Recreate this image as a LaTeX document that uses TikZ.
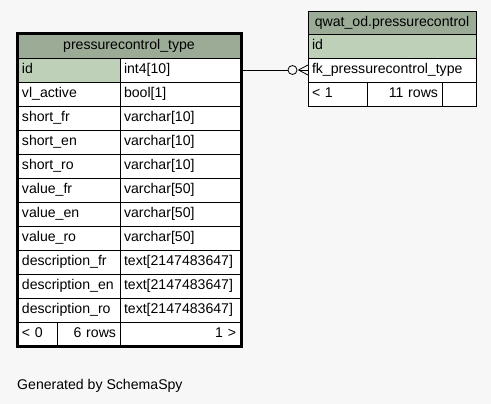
\documentclass[tikz,border=0pt]{standalone}
\usepackage{fontspec}
\setmainfont{Liberation Sans}
\usetikzlibrary{calc}
\definecolor{bgc}{HTML}{F7F7F7}
\definecolor{hdr}{HTML}{9BAB96}
\definecolor{pkc}{HTML}{BED1B8}
\begin{document}
\begin{tikzpicture}[x=1pt,y=-1pt,
  font=\fontsize{14.1}{16}\selectfont,
  cellbox/.style={draw=black, line width=0.8pt, fill=white, rectangle, inner xsep=4pt, inner ysep=0pt,
    outer sep=0pt, anchor=north west, text height=10.5pt, text depth=3pt},
  lcell/.style={cellbox, align=left, text width=#1},
  rcell/.style={cellbox, align=right, text width=#1},
  ccell/.style={cellbox, align=center, text width=#1},
]
\useasboundingbox (0,0) rectangle (491,404);
\fill[bgc] (0,0) rectangle (491,404);

% ---------- left table ----------
\node[ccell=214pt, fill=hdr, minimum height=24pt] (lt) at (18,34) {pressurecontrol\_type};
\node[lcell=94pt, fill=pkc, minimum height=24pt] (lid) at (18,58) {id};
\node[lcell=112pt, minimum height=24pt] (lidt) at (120,58) {int4[10]};
\foreach \n/\t [count=\i] in {vl\_active/bool[1], short\_fr/varchar[10], short\_en/varchar[10], short\_ro/varchar[10],
  value\_fr/varchar[50], value\_en/varchar[50], value\_ro/varchar[50],
  description\_fr/text[2147483647], description\_en/text[2147483647], description\_ro/text[2147483647]} {
  \node[lcell=94pt, minimum height=24pt] (ln\i) at (18,58+24*\i) {\n};
  \node[lcell=112pt, minimum height=24pt] (lt\i) at (120,58+24*\i) {\t};
}
\node[lcell=31pt, minimum height=24pt] (lf1) at (18,322) {< 0};
\node[rcell=55pt, minimum height=24pt] (lf2) at (57,322) {6 rows};
\node[rcell=112pt, minimum height=24pt] (lf3) at (120,322) {1 >};
\draw[line width=2.6pt] (17.2,33.2) rectangle (241.2,346.3);

% ---------- right table ----------
\node[ccell=160pt, fill=hdr, minimum height=23pt] (rt) at (308,11) {qwat\_od.pressurecontrol};
\node[lcell=160pt, fill=pkc, minimum height=24pt] (rid) at (308,34) {id};
\node[lcell=160pt, minimum height=24pt] (rfk) at (308,58) {fk\_pressurecontrol\_type};
\node[lcell=51pt, minimum height=24pt] (rf1) at (308,82) {< 1};
\node[rcell=67pt, minimum height=24pt] (rf2) at (367,82) {11 rows};
\node[lcell=26pt, minimum height=24pt] (rf3) at (442,82) {};

% ---------- connector ----------
\node[circle, draw=black, line width=0.8pt, fill=bgc, minimum size=9pt, inner sep=0pt] (circ) at (292.5,70) {};
\coordinate (cf) at (298.5,70);
\draw[line width=0.8pt] (lid.east -| lidt.east) ++(1.5,0) -- (circ.west);
\draw[line width=0.8pt] (cf) -- (rfk.west);
\draw[line width=0.8pt] (cf) -- ($(rfk.west)+(0,-5)$);
\draw[line width=0.8pt] (cf) -- ($(rfk.west)+(0,5)$);

\node[anchor=base west, inner sep=0pt] (gen) at (17,389) {Generated by SchemaSpy};
\end{tikzpicture}
\end{document}
